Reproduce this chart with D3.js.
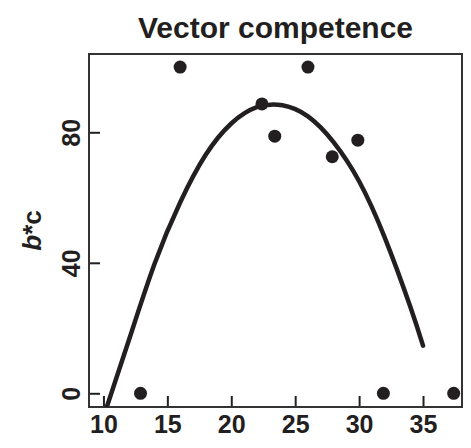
<!DOCTYPE html>
<html>
<head>
<meta charset="utf-8">
<script src="https://cdn.jsdelivr.net/npm/d3@7"></script>
<style>
  body { margin: 0; background: #fff; }
  svg text { font-family: "Liberation Sans", Arial, Helvetica, sans-serif; fill: #231f20; }
</style>
</head>
<body>
<svg id="chart" width="471" height="448"></svg>
<script>

var title = 'Vector competence';

// observed points
var dotX = [12.9, 16, 22.4, 23.4, 26, 27.9, 29.9, 31.9, 37.4];
var dotY = [0, 100, 88.7, 78.8, 100, 72.5, 77.6, 0, 0];

// fitted curve
var curveX = [10.27, 12, 14, 16, 18, 20, 22, 24, 26, 28, 30, 32, 34, 35];
var curveY = [-4.1, 16.4, 39.7, 58.5, 73.1, 82.7, 87.7, 88.3, 84.9, 77.0, 65.0, 47.8, 26.6, 14.6];

var xTicks = [10, 15, 20, 25, 30, 35];
var yTicks = [0, 40, 80];

var box = { left: 89, right: 462, top: 54, bottom: 407 };

var svg = d3.select('#chart');

var x = d3.scaleLinear().domain([8.87, 38.05]).range([box.left, box.right]);
var y = d3.scaleLinear().domain([-4.2, 104]).range([box.bottom, box.top]);

svg.append('defs').append('clipPath')
    .attr('id', 'plot-clip')
  .append('rect')
    .attr('x', box.left)
    .attr('y', box.top)
    .attr('width', box.right - box.left)
    .attr('height', box.bottom - box.top);

// x axis, ticks pointing in
var xAxis = svg.append('g')
    .attr('transform', 'translate(0,' + box.bottom + ')')
    .call(d3.axisBottom(x).tickValues(xTicks).tickSize(-11).tickSizeOuter(0).tickPadding(8));

xAxis.select('.domain').remove();
xAxis.selectAll('line').attr('stroke', '#231f20').attr('stroke-width', 2);
xAxis.selectAll('text')
    .style('font-size', '25px')
    .style('font-weight', 'bold');

// y axis, labels turned
var yAxis = svg.append('g')
    .attr('transform', 'translate(' + box.left + ',0)')
    .call(d3.axisLeft(y).tickValues(yTicks).tickSize(-11).tickSizeOuter(0));

yAxis.select('.domain').remove();
yAxis.selectAll('line').attr('stroke', '#231f20').attr('stroke-width', 2);
yAxis.selectAll('text')
    .attr('transform', 'rotate(-90)')
    .attr('x', 0)
    .attr('y', -9)
    .attr('dy', 0)
    .attr('text-anchor', 'middle')
    .style('font-size', '25px')
    .style('font-weight', 'bold');

// frame
svg.append('rect')
    .attr('x', box.left)
    .attr('y', box.top)
    .attr('width', box.right - box.left)
    .attr('height', box.bottom - box.top)
    .attr('fill', 'none')
    .attr('stroke', '#333')
    .attr('stroke-width', 2);

var line = d3.line()
    .x(function(d) { return x(d[0]); })
    .y(function(d) { return y(d[1]); })
    .curve(d3.curveNatural);

svg.append('path')
    .datum(d3.zip(curveX, curveY))
    .attr('clip-path', 'url(#plot-clip)')
    .attr('d', line)
    .attr('fill', 'none')
    .attr('stroke', '#231f20')
    .attr('stroke-width', 4.5)
    .attr('stroke-linecap', 'round');

svg.append('g')
  .selectAll('circle')
    .data(d3.zip(dotX, dotY))
  .enter().append('circle')
    .attr('cx', function(d) { return x(d[0]); })
    .attr('cy', function(d) { return y(d[1]); })
    .attr('r', 6.5)
    .attr('fill', '#231f20');

// title
svg.append('text')
    .attr('x', (box.left + box.right) / 2)
    .attr('y', 38)
    .attr('text-anchor', 'middle')
    .style('font-size', '30px')
    .style('font-weight', 'bold')
    .text(title);

// y label: b*c
var ylab = svg.append('text')
    .attr('transform', 'translate(41,' + ((box.top + box.bottom) / 2) + ') rotate(-90)')
    .attr('text-anchor', 'middle')
    .style('font-size', '26px')
    .style('font-weight', 'bold');

ylab.append('tspan').style('font-style', 'italic').text('b');
ylab.append('tspan').text('*c');

</script>
</body>
</html>
